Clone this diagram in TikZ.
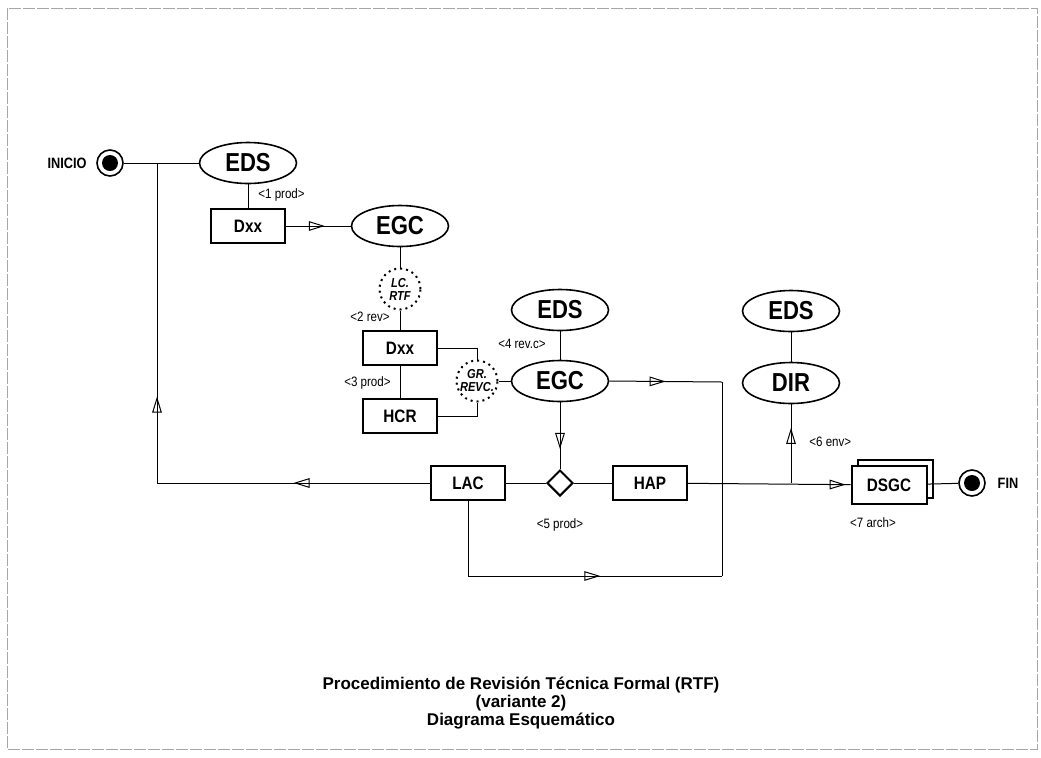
\documentclass[tikz,border=0pt]{standalone}
\usepackage{fontspec}
\setmainfont[FakeStretch=0.85]{Liberation Sans}
\newfontfamily\titlefont{Liberation Sans}
\usepackage{tikz}
\usetikzlibrary{arrows.meta,shapes.geometric,decorations.markings,shadows}

\begin{document}
\begin{tikzpicture}[x=0.5pt, y=-0.5pt,
      ent/.style={draw, ellipse, line width=0.8pt, minimum width=48.5pt, minimum height=20.5pt, inner sep=0pt, font=\fontsize{13}{13}\selectfont\bfseries},
      box/.style={draw, rectangle, line width=1pt, fill=white, minimum width=37pt, minimum height=17pt, inner sep=0pt, font=\fontsize{9}{9}\selectfont\bfseries},
      notecirc/.style={draw, circle, dotted, line width=1pt, minimum size=20.5pt, inner sep=0pt, align=center, font=\fontsize{6.5}{6.5}\selectfont\bfseries\itshape},
      decis/.style={draw, diamond, line width=1pt, minimum size=13pt, inner sep=0pt},
      endpt/.style={draw, circle, line width=0.8pt, minimum size=13pt, inner sep=0pt,
        path picture={\fill (path picture bounding box.center) circle[radius=4pt];}},
      lbl/.style={inner sep=1pt, font=\fontsize{6.8}{7}\selectfont},
      term/.style={inner sep=1pt, font=\fontsize{7.5}{8}\selectfont\bfseries},
      con/.style={line width=0.5pt},
      midarr/.style={con, postaction={decorate}, decoration={markings,
        mark=at position #1 with {\arrow{Triangle[open, length=8pt, width=4.8pt]}}}}]
    \useasboundingbox (0,0) rectangle (1041,757);
    % frame of the sheet
    \draw[gray!70, line width=0.4pt, dash pattern=on 6pt off 1pt] (7,8) rectangle (1037,749);
    % nodes
    \node[term] (inicio) at (67,163) {INICIO};
    \node[endpt] (start) at (110,163) {};
    \node[ent] (eds1) at (248,163) {EDS};
    \node[box] (dxx1) at (248,226) {Dxx};
    \node[ent] (egc1) at (400,226) {EGC};
    \node[notecirc] (lcrtf) at (400,289) {LC.\\RTF};
    \node[box] (dxx2) at (400,348) {Dxx};
    \node[box] (hcr) at (400,416) {HCR};
    \node[notecirc] (grrevc) at (477,381) {GR.\\REVC.};
    \node[ent] (eds2) at (560,310) {EDS};
    \node[ent] (egc2) at (560,381) {EGC};
    \node[decis] (dec) at (560,483) {};
    \node[box] (lac) at (468,483) {LAC};
    \node[box] (hap) at (650,483) {HAP};
    \node[ent] (eds3) at (791,311) {EDS};
    \node[ent] (dir) at (791,383) {DIR};
    \node[box, minimum width=37.5pt, minimum height=19pt, copy shadow={shadow xshift=3pt, shadow yshift=3pt}] (dsgc) at (889,485) {DSGC};
    \node[endpt] (fin) at (972,483) {};
    \node[term] (finlbl) at (1008,483) {FIN};
    \coordinate (j1) at (157,163);
    \coordinate (j2) at (791,483);
    \coordinate (j3) at (157,483);
    \coordinate (c1) at (722,382);
    \coordinate (c2) at (722,576);
    % labels
    \node[lbl, anchor=west] (l1) at (256,195) {<1 prod>};
    \node[lbl, anchor=east] (l2) at (392,317) {<2 rev>};
    \node[lbl, anchor=east] (l3) at (393,383) {<3 prod>};
    \node[lbl, anchor=east] (l4) at (548,344) {<4 rev.c>};
    \node[lbl] (l5) at (560,525) {<5 prod>};
    \node[lbl, anchor=west] (l6) at (807,442) {<6 env>};
    \node[lbl] (l7) at (873,523) {<7 arch>};
    % connectors
    \draw[con] (start) -- (eds1);
    \draw[con] (eds1) -- (dxx1);
    \draw[midarr=0.6] (dxx1) -- (egc1);
    \draw[con] (egc1) -- (lcrtf);
    \draw[con] (lcrtf) -- (dxx2);
    \draw[con] (dxx2) -- (hcr);
    \draw[con] (dxx2.east) -| (grrevc.north);
    \draw[con] (hcr.east) -| (grrevc.south);
    \draw[con] (grrevc) -- (egc2);
    \draw[con] (eds2) -- (egc2);
    \draw[midarr=0.5] (egc2.east) -- (c1);
    \draw[con] (c1) -- (c2);
    \draw[midarr=0.7] (egc2) -- (dec);
    \draw[con] (lac) -- (dec);
    \draw[con] (dec) -- (hap);
    \draw[midarr=0.97] (hap) -- (dsgc);
    \draw[midarr=0.7] (j2) -- (dir);
    \draw[con] (eds3) -- (dir);
    \draw[con] (dsgc) -- (fin);
    \draw[midarr=0.5] (lac) -- (j3);
    \draw[midarr=0.27] (j3) -- (j1);
    \draw[midarr=0.63] (lac.south) |- (c2);
    % title
    \node[align=center, font=\titlefont\fontsize{8.5}{7.6}\selectfont\bfseries] (title) at (521,703)
      {Procedimiento de Revisión Técnica Formal (RTF)\\(variante 2)\\Diagrama Esquemático};
  \end{tikzpicture}
\end{document}
